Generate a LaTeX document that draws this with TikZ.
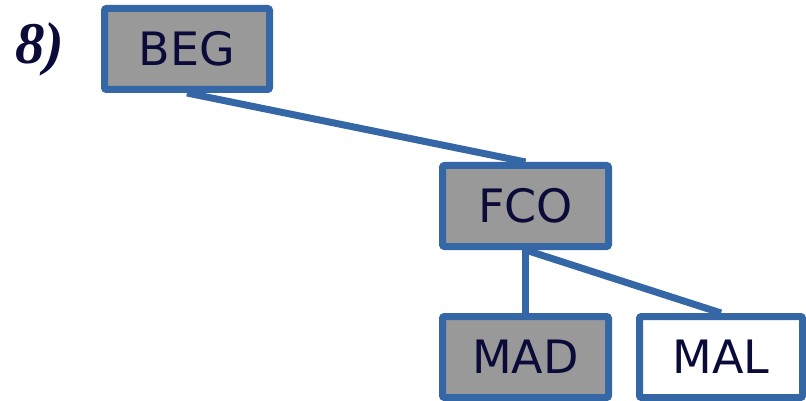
\documentclass[tikz,border=0pt]{standalone}
\usetikzlibrary{backgrounds}
\usepackage{fontspec}
\setmainfont{DejaVu Sans}
\newfontfamily\labelserif{Liberation Serif}
\definecolor{edgeblue}{HTML}{3566A5}
\definecolor{boxgray}{HTML}{999999}
\definecolor{inkblue}{HTML}{0B0B3A}
\begin{document}
\begin{tikzpicture}[x=1pt,y=-1pt,
  treebox/.style={draw=edgeblue,line width=7pt,rounded corners=2pt,inner sep=0pt,
    minimum height=81pt,text=inkblue,font=\fontsize{46}{46}\selectfont},
  filled/.style={treebox,fill=boxgray},
  open/.style={treebox,fill=white},
  link/.style={edgeblue,line width=7pt}]
\useasboundingbox (0,0) rectangle (806,401);
% tree nodes
\node[filled,minimum width=165pt] (beg) at (187,49) {BEG};
\node[filled,minimum width=166pt] (fco) at (525.5,206) {FCO};
\node[filled,minimum width=166pt] (mad) at (525.5,357) {MAD};
\node[open,minimum width=163pt] (mal) at (721,357) {MAL};
% tree edges, kept behind the boxes
\begin{scope}[on background layer]
\draw[link] (beg.south) -- (fco.north);
\draw[link] (fco.south) -- (mad.north);
\draw[link] (fco.south) -- (mal.north);
\end{scope}
\node[anchor=base west,inner sep=0pt,text=inkblue,
  font=\labelserif\bfseries\itshape\fontsize{59}{59}\selectfont] (num) at (15,64) {8)};
\end{tikzpicture}
\end{document}
